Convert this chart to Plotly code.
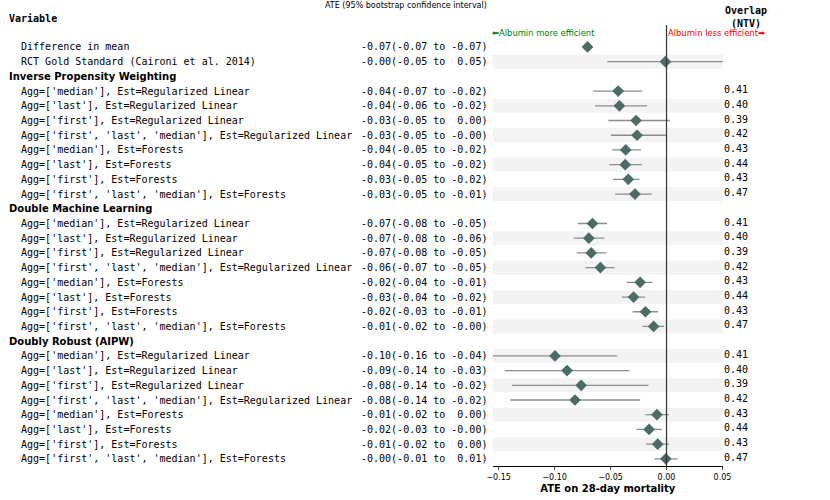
import plotly.graph_objects as go

# ---- data ----
top_labels = ["Difference in mean", "RCT Gold Standard (Caironi et al. 2014)"]
top_ate = [-0.0706, -0.001]
top_lo = [-0.0712, -0.053]
top_hi = [-0.0700, 0.052]
top_shade = [False, True]

method_names = ["Inverse Propensity Weighting", "Double Machine Learning", "Doubly Robust (AIPW)"]
variant_labels = [
    "Agg=['median'], Est=Regularized Linear",
    "Agg=['last'], Est=Regularized Linear",
    "Agg=['first'], Est=Regularized Linear",
    "Agg=['first', 'last', 'median'], Est=Regularized Linear",
    "Agg=['median'], Est=Forests",
    "Agg=['last'], Est=Forests",
    "Agg=['first'], Est=Forests",
    "Agg=['first', 'last', 'median'], Est=Forests",
]
ntv_overlap = [0.41, 0.40, 0.39, 0.42, 0.43, 0.44, 0.43, 0.47]

ipw_ate = [-0.0432, -0.0421, -0.0272, -0.0263, -0.0365, -0.0369, -0.0342, -0.0282]
ipw_lo = [-0.0657, -0.0639, -0.0520, -0.0497, -0.0488, -0.0512, -0.0479, -0.0459]
ipw_hi = [-0.0216, -0.0174, 0.0030, -0.0006, -0.0229, -0.0218, -0.0241, -0.0132]

dml_ate = [-0.0662, -0.0694, -0.0673, -0.0591, -0.0236, -0.0294, -0.0188, -0.0115]
dml_lo = [-0.0792, -0.0831, -0.0803, -0.0724, -0.0355, -0.0400, -0.0303, -0.0215]
dml_hi = [-0.0532, -0.0556, -0.0538, -0.0465, -0.0126, -0.0191, -0.0077, -0.0021]

dr_ate = [-0.0997, -0.0889, -0.0763, -0.0818, -0.0086, -0.0156, -0.0079, -0.0006]
dr_lo = [-0.162, -0.1445, -0.1380, -0.1395, -0.0189, -0.0268, -0.0183, -0.0109]
dr_hi = [-0.0439, -0.0330, -0.0160, -0.0236, 0.0023, -0.0041, 0.0023, 0.0100]

method_shade = [
    [False, True, False, True, False, True, False, True],
    [False, True, False, True, False, True, False, True],
    [True, False, True, False, True, False, True, False],
]

x_ticks = [-0.15, -0.10, -0.05, 0.00, 0.05]

# ---- row layout ----
rows = []  # (kind, label, ate, lo, hi, overlap, shade)
for lab, a, lo, hi, sh in zip(top_labels, top_ate, top_lo, top_hi, top_shade):
    rows.append(("data", lab, a, lo, hi, None, sh))
for name, ates, los, his, shades in zip(
        method_names, [ipw_ate, dml_ate, dr_ate], [ipw_lo, dml_lo, dr_lo],
        [ipw_hi, dml_hi, dr_hi], method_shade):
    rows.append(("header", name, None, None, None, None, False))
    for lab, a, lo, hi, ov, sh in zip(variant_labels, ates, los, his, ntv_overlap, shades):
        rows.append(("data", lab, a, lo, hi, ov, sh))

W, H = 830, 500


def px(x):
    return x / W


def py(y):
    return 1 - y / H


MONO = "DejaVu Sans Mono"
SANS = "DejaVu Sans"
marker_col = "#4a6b66"
bar_col = "#8c8c8c"
LEFT = 2

fig = go.Figure()
annotations = []
shapes = []


def note(x, y, text, anchor, family, size, color="black", yref="y"):
    annotations.append(dict(x=x, y=y, xref="paper", yref=yref, text=text,
                            showarrow=False, xanchor=anchor, yanchor="middle",
                            align=anchor, borderpad=0,
                            font=dict(family=family, size=size, color=color)))


ci_x, ci_y = [], []
pt_x, pt_y = [], []
for i, (kind, lab, a, lo, hi, ov, sh) in enumerate(rows):
    if kind == "header":
        note(px(LEFT), i, "<b>" + lab + "</b>", "left", SANS, 10)
        continue
    note(px(LEFT), i, "&nbsp;&nbsp;" + lab, "left", MONO, 10)
    ate_txt = f"{a:.2f}({lo:.2f} to {hi:5.2f})".replace(" ", "&nbsp;")
    note(px(491), i, ate_txt, "right", MONO, 10)
    if ov is not None:
        note(px(730), i - 0.1, f"{ov:.2f}", "left", MONO, 10)
    if sh:
        shapes.append(dict(type="rect", xref="x domain", yref="y", x0=0, x1=1,
                           y0=i - 0.48, y1=i + 0.48, fillcolor="#f3f3f3",
                           line=dict(width=0), layer="below"))
    ci_x += [lo, hi, None]
    ci_y += [i, i, None]
    pt_x.append(a)
    pt_y.append(i)

fig.add_trace(go.Scatter(x=ci_x, y=ci_y, mode="lines",
                         line=dict(color=bar_col, width=1.3), hoverinfo="skip",
                         showlegend=False))
fig.add_trace(go.Scatter(x=pt_x, y=pt_y, mode="markers",
                         marker=dict(symbol="diamond", size=9, color=marker_col),
                         showlegend=False))

# zero line
shapes.append(dict(type="line", xref="x", yref="y domain", x0=0, x1=0, y0=0, y1=1,
                   line=dict(color="#333333", width=1.2)))

# column headers and direction labels
note(px(LEFT), py(18), "<b>Variable</b>", "left", MONO, 10, yref="paper")
note(px(407), py(5), "ATE (95% bootstrap confidence interval)", "center", SANS, 8, yref="paper")
note(px(754), py(17), "<b>Overlap<br>(NTV)</b>", "center", MONO, 10, yref="paper")
note(px(494), py(33), "⬅Albumin more efficient", "left", SANS, 8.4, "green", yref="paper")
note(px(673), py(33), "Albumin less efficient➡", "left", SANS, 8.4, "red", yref="paper")

n = len(rows)
fig.update_layout(
    width=W, height=H,
    margin=dict(l=0, r=0, t=0, b=0),
    paper_bgcolor="white", plot_bgcolor="white",
    xaxis=dict(domain=[px(495.7), px(730)], range=[-0.1553, 0.0503],
               tickvals=x_ticks, tickformat=".2f", ticks="outside", ticklen=3,
               showline=True, linecolor="black", linewidth=1, showgrid=False,
               zeroline=False, tickfont=dict(family=SANS, size=8, color="black"),
               title=dict(text="<b>ATE on 28-day mortality</b>", standoff=4,
                          font=dict(family=SANS, size=10, color="black"))),
    yaxis=dict(domain=[py(466.2), py(24.9)], range=[n - 0.5, -1.5], visible=False),
    shapes=shapes,
    annotations=annotations,
    showlegend=False,
)

# the page body has a default 8px margin; drop it so the figure fills the window
fig.write_html("out.html", config={"displayModeBar": False},
               post_script="document.body.style.margin = '0';")
